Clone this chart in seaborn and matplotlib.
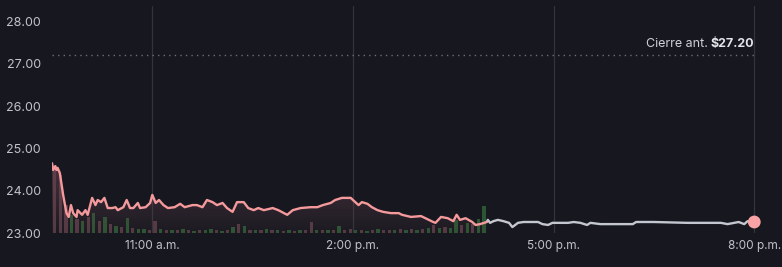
import numpy as np
import pandas as pd
import matplotlib
matplotlib.use("Agg")
import matplotlib.pyplot as plt
import seaborn as sns
from matplotlib.patches import PathPatch
from matplotlib.path import Path

# ---------------- data ----------------
reg_times = ["09:30", "09:31", "09:33", "09:34", "09:35", "09:37", "09:40", "09:43", "09:45", "09:47",
             "09:49", "09:52", "09:53", "09:57", "10:00", "10:02", "10:06", "10:09", "10:11", "10:14",
             "10:17", "10:20", "10:24", "10:27", "10:29", "10:34", "10:37", "10:40", "10:43", "10:47",
             "10:49", "10:54", "10:58", "11:00", "11:03", "11:06", "11:10", "11:14", "11:20", "11:25",
             "11:29", "11:36", "11:40", "11:45", "11:49", "11:54", "11:58", "12:03", "12:07", "12:12",
             "12:16", "12:22", "12:26", "12:31", "12:35", "12:40", "12:48", "12:53", "13:01", "13:06",
             "13:13", "13:22", "13:28", "13:33", "13:40", "13:44", "13:50", "13:58", "14:00", "14:05",
             "14:08", "14:13", "14:17", "14:22", "14:27", "14:34", "14:41", "14:44", "14:52", "15:01",
             "15:05", "15:12", "15:14", "15:19", "15:25", "15:30", "15:33", "15:36", "15:41", "15:47",
             "15:50", "15:54", "16:00"]
reg_prices = [24.65, 24.49, 24.58, 24.49, 24.54, 24.42, 23.90, 23.47, 23.38, 23.66,
              23.47, 23.38, 23.54, 23.43, 23.54, 23.43, 23.83, 23.66, 23.78, 23.73,
              23.83, 23.59, 23.59, 23.61, 23.54, 23.61, 23.78, 23.59, 23.59, 23.71,
              23.59, 23.61, 23.71, 23.90, 23.71, 23.78, 23.66, 23.59, 23.61, 23.69,
              23.61, 23.66, 23.66, 23.61, 23.78, 23.73, 23.66, 23.71, 23.59, 23.50,
              23.73, 23.73, 23.59, 23.54, 23.59, 23.54, 23.59, 23.54, 23.43, 23.54,
              23.59, 23.61, 23.61, 23.66, 23.71, 23.78, 23.83, 23.83, 23.78, 23.66,
              23.73, 23.69, 23.61, 23.54, 23.50, 23.47, 23.47, 23.43, 23.38, 23.40,
              23.35, 23.26, 23.24, 23.38, 23.35, 23.28, 23.43, 23.31, 23.35, 23.26,
              23.19, 23.21, 23.26]

ah_times = ["16:00", "16:01", "16:03", "16:06", "16:10", "16:15", "16:20", "16:23", "16:28", "16:33",
            "16:39", "16:46", "16:50", "16:55", "16:59", "17:13", "17:18", "17:24", "17:30", "17:33",
            "17:42", "18:11", "18:14", "18:30", "19:00", "19:30", "19:36", "19:42", "19:46", "19:51",
            "19:54", "20:00"]
ah_prices = [23.26, 23.31, 23.24, 23.28, 23.31, 23.28, 23.24, 23.14, 23.24, 23.26,
             23.26, 23.26, 23.21, 23.19, 23.24, 23.24, 23.26, 23.24, 23.19, 23.24,
             23.21, 23.21, 23.26, 23.26, 23.24, 23.24, 23.21, 23.24, 23.26, 23.21,
             23.28, 23.26]

# 5-minute volume bars, 9:30 .. 15:55 (thousand shares), direction u=up d=down
vol_start = "09:30"
volumes = [68, 58, 28, 18, 14, 12, 16, 20, 12, 16,
           9, 7, 6, 15, 5, 4, 4, 3, 12, 4,
           3, 3, 3, 4, 3, 2, 3, 3, 4, 3,
           2, 3, 6, 9, 7, 3, 3, 3, 4, 3,
           3, 2, 3, 2, 3, 3, 11, 3, 3, 3,
           3, 7, 3, 4, 3, 3, 2, 3, 4, 3,
           3, 3, 4, 3, 4, 3, 4, 5, 8, 5,
           6, 5, 13, 8, 10, 9, 14, 27]
vol_dir = ["d", "d", "d", "u", "d", "u", "d", "u", "d", "u",
           "d", "u", "d", "u", "d", "u", "u", "d", "d", "u",
           "d", "u", "d", "u", "d", "u", "d", "u", "u", "d",
           "u", "d", "u", "d", "u", "d", "u", "d", "u", "d",
           "u", "d", "u", "d", "u", "d", "d", "u", "d", "u",
           "d", "u", "d", "d", "u", "d", "u", "d", "u", "d",
           "d", "u", "d", "u", "d", "u", "d", "u", "d", "u",
           "d", "u", "u", "d", "u", "d", "u", "u"]

prev_close = 27.20
y_ticks = [23, 24, 25, 26, 27, 28]
y_labels = ["23.00", "24.00", "25.00", "26.00", "27.00", "28.00"]
x_ticks = ["11:00", "14:00", "17:00", "20:00"]
x_labels = ["11:00 a.m.", "2:00 p.m.", "5:00 p.m.", "8:00 p.m."]


def to_h(t):
    h, m = t.split(":")
    return int(h) + int(m) / 60.0


reg = pd.DataFrame({"h": [to_h(t) for t in reg_times], "price": reg_prices})
ah = pd.DataFrame({"h": [to_h(t) for t in ah_times], "price": ah_prices})
vol = pd.DataFrame({"h": [to_h(vol_start) + 5 / 60 * i for i in range(len(volumes))],
                    "v": volumes, "d": vol_dir})

# ---------------- style ----------------
BG = "#17181f"
PINK = "#f59a9c"
GRAY = "#c4c7cf"
TXT = "#c2c3ca"

sns.set_theme(style="dark")
plt.rcParams["font.family"] = ["Inter", "DejaVu Sans"]

fig = plt.figure(figsize=(7.82, 2.67), dpi=100, facecolor=BG)
W, H = 782, 267
ax = fig.add_axes([52 / W, 34 / H, (771 - 52) / W, (233 - 6) / H])
axv = ax.twinx()
ax.set_zorder(2)
axv.set_zorder(1)
ax.patch.set_visible(False)
axv.set_facecolor(BG)

x0, x1 = 9.5, 20.25
y0 = 23.0
y1 = 23.0 + (233 - 6) / 42.3
ax.set_xlim(x0, x1)
ax.set_ylim(y0, y1)
axv.set_ylim(0, 233 - 6)

# volume bars
cols = {"u": "#336b3b", "d": "#6a4550"}
axv.bar(vol["h"] + 2.5 / 60, vol["v"], width=3.0 / 60,
        color=[cols[d] for d in vol["d"]], alpha=0.75, linewidth=0)
axv.set_yticks([])
axv.grid(False)
for s in axv.spines.values():
    s.set_visible(False)

# vertical grid lines
for t in x_ticks:
    ax.axvline(to_h(t), color="#32333b", lw=0.9, zorder=0.5)

# gradient fill under regular session line
grad = np.linspace(0, 1, 256)[:, None]
rgba = np.zeros((256, 1, 4))
rgba[..., 0] = 0.42
rgba[..., 1] = 0.27
rgba[..., 2] = 0.32
rgba[..., 3] = 0.05 + 0.55 * np.clip(grad[:, :], 0, 1)
gy_top = max(reg_prices)
im = ax.imshow(rgba, extent=[x0, x1, y0, gy_top], origin="lower", aspect="auto", zorder=1)
verts = [(reg["h"].iloc[0], y0)] + list(zip(reg["h"], reg["price"])) + [(reg["h"].iloc[-1], y0)]
clip = PathPatch(Path(verts + [verts[0]], closed=True), transform=ax.transData, facecolor="none", edgecolor="none")
ax.add_patch(clip)
im.set_clip_path(clip)
ax.set_xlim(x0, x1)
ax.set_ylim(y0, y1)

# price lines
sns.lineplot(data=ah, x="h", y="price", ax=ax, color=GRAY, lw=1.7, zorder=3)
sns.lineplot(data=reg, x="h", y="price", ax=ax, color=PINK, lw=1.7, zorder=4)
sns.scatterplot(x=[ah["h"].iloc[-1]], y=[ah["price"].iloc[-1]], ax=ax, s=85,
                color="#f9a3a6", edgecolor="none", zorder=5, clip_on=False)

# previous close
ax.plot([x0, to_h("20:00")], [prev_close, prev_close], color="#6c6d76", lw=1,
        ls=(0, (1, 3)), zorder=2)
tb = ax.text(to_h("20:00"), 27.47, "$27.20", ha="right", va="center", color="#e4e5ea",
             fontsize=9, fontweight="bold", zorder=6)
fig.canvas.draw()
bb = tb.get_window_extent(fig.canvas.get_renderer())
fig.text((bb.x0 - 3) / W, (bb.y0 + bb.y1) / 2 / H, "Cierre ant.", ha="right", va="center",
         color="#d0d1d7", fontsize=9)

# axes styling
ax.set_xticks([to_h(t) for t in x_ticks])
ax.set_xticklabels(x_labels)
ax.set_yticks(y_ticks)
ax.set_yticklabels(y_labels)
ax.tick_params(axis="y", length=0, pad=8, labelsize=9, labelcolor=TXT)
ax.tick_params(axis="x", length=0, pad=5, labelsize=8.5, labelcolor=TXT)
ax.set_xlabel("")
ax.set_ylabel("")
ax.grid(False)
for s in ax.spines.values():
    s.set_visible(False)

fig.savefig("out.png", dpi=100, facecolor=BG)
